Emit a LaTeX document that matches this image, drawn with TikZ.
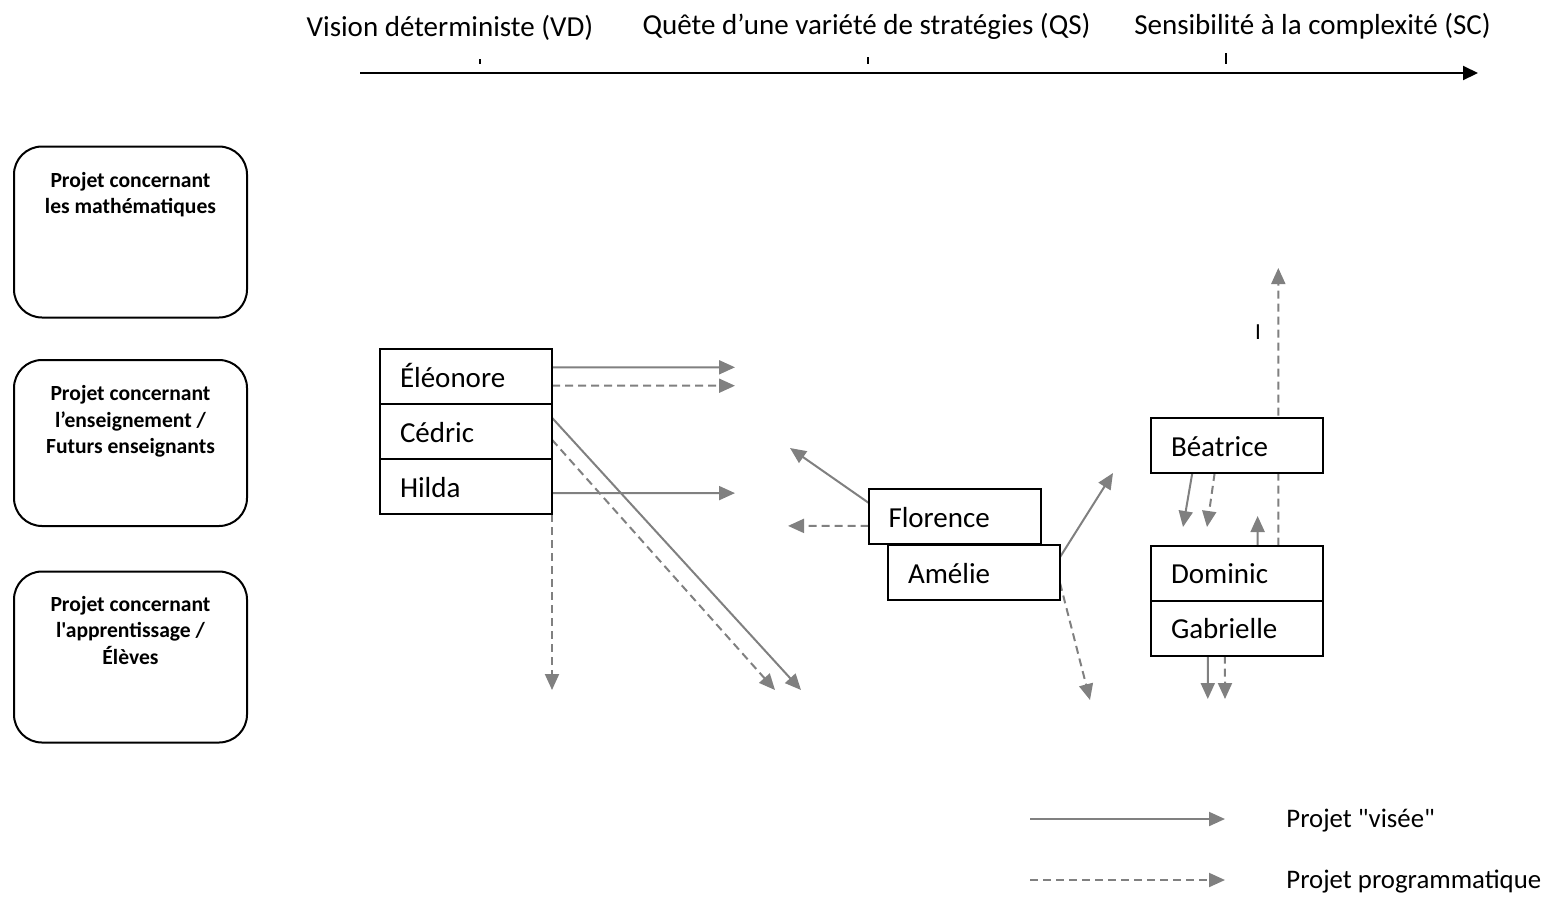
\documentclass[tikz,border=0pt]{standalone}
\usepackage{fontspec}
\setmainfont{Carlito}[Ligatures=TeXOff]
\usetikzlibrary{arrows.meta,calc}
\usetikzlibrary{positioning,backgrounds}

\begin{document}
\begin{tikzpicture}[x=0.5pt,y=-0.5pt,
  axe/.style={line width=1pt,-{Triangle[length=7.5pt,width=7pt]}},
  titre/.style={anchor=base,font=\fontsize{14.5}{17}\selectfont},
  cadre/.style={draw,line width=1pt,rounded corners=14pt,minimum width=116.5pt,minimum height=85.5pt},
  cadretxt/.style={inner sep=0pt,align=center,font=\bfseries\fontsize{10.8}{13.25}\selectfont},
  etu/.style={draw,fill=white,line width=1pt,outer sep=0pt,minimum height=27.5pt,text width=66pt,inner xsep=10pt,
    align=left,text height=13pt,text depth=2.5pt,font=\fontsize{14.5}{17}\selectfont},
  visee/.style={draw=gray,line width=1pt,-{Triangle[length=8pt,width=7pt,fill=gray]}},
  prog/.style={visee,dash pattern=on 4pt off 2.5pt},
  leg/.style={anchor=base west,inner sep=0pt,font=\fontsize{13.4}{16}\selectfont}]

\useasboundingbox (0,0) rectangle (1552,901);

% axe des visions
\coordinate(O) at (360,73);
\coordinate(X) at (1478,73);
\draw[axe] (O) -- (X);
\draw[line width=0.8pt] (480,59) -- (480,64) (868,57) -- (868,64) (1226,53) -- (1226,64);
\node[titre] (VD) at (450,36.5) {Vision déterministe (VD)};
\node[titre] (QS) at (866.5,34.5) {Quête d’une variété de stratégies (QS)};
\node[titre] (SC) at (1312.5,34.5) {Sensibilité à la complexité (SC)};

% types de projets
\node[cadre] (math) at (130.5,232) {};
\node[cadre,minimum height=83pt] (ens) at (130.5,443) {};
\node[cadre] (app) at (130.5,657) {};
\node[cadretxt,below=13pt of math.north] (mathtxt) {Projet concernant\\les mathématiques};
\node[cadretxt,below=13pt of ens.north] (enstxt) {Projet concernant\\l’enseignement /\\Futurs enseignants};
\node[cadretxt,below=12.5pt of app.north] (apptxt) {Projet concernant\\l'apprentissage /\\Élèves};

% etudiants
\node[etu] (eleo) at (466,376.5) {Éléonore};
\node[etu,below=0pt of eleo] (cedr) {Cédric};
\node[etu,below=0pt of cedr] (hild) {Hilda};
\node[etu] (flor) at (954.5,516.5) {Florence};
\node[etu] (amel) at (974,572.5) {Amélie};
\node[etu] (beat) at (1237,445.5) {Béatrice};
\node[etu] (domi) at (1237,573) {Dominic};
\node[etu,below=0pt of domi] (gabr) {Gabrielle};
\node[anchor=base,font=\fontsize{11.5}{14}\selectfont] (trait) at (1258,339) {I};

\begin{scope}[on background layer]
\coordinate(Ep) at ($(eleo.north east)!1./3!(eleo.south east)$);
\coordinate(Eq) at ($(eleo.north east)!2./3!(eleo.south east)$);
\coordinate(Cp) at ($(cedr.north east)!0.25!(cedr.south east)$);
\coordinate(Cq) at ($(cedr.north east)!0.65!(cedr.south east)$);
\coordinate(Hp) at ($(hild.north east)!0.62!(hild.south east)$);
\coordinate(Fp) at ($(flor.north west)!0.25!(flor.south west)$);
\coordinate(Fq) at ($(flor.north west)!0.67!(flor.south west)$);
\coordinate(Ap) at ($(amel.north east)!0.22!(amel.south east)$);
\coordinate(Aq) at ($(amel.north east)!0.69!(amel.south east)$);
\coordinate(Bp) at ($(beat.south west)!0.24!(beat.south east)$);
\coordinate(Bq) at ($(beat.south west)!0.37!(beat.south east)$);
\coordinate(Dp) at ($(domi.north west)!0.62!(domi.north east)$);
\coordinate(Dq) at ($(domi.north west)!0.74!(domi.north east)$);
\coordinate(Gp) at ($(gabr.south west)!0.33!(gabr.south east)$);
\coordinate(Gq) at ($(gabr.south west)!0.43!(gabr.south east)$);

\draw[visee] (Ep) -- (735,367.3);
\draw[prog] (Eq) -- (735,385.7);
\draw[visee] (Cp) -- (801,690);
\draw[prog] (Cq) -- (775,690);
\draw[visee] (Hp) -- (735,493.1);
\draw[prog] (hild.south east) -- (552,690);
\draw[visee] (Fp) -- (790,448);
\draw[prog] (Fq) -- (788,525.9);
\draw[visee] (Ap) -- (1113,473);
\draw[prog] (Aq) -- (1090,700);
\draw[visee] (Bp) -- (1183,527);
\draw[prog] (Bq) -- (1207,527);
\draw[visee] (Dp) -- (1257.6,516);
\draw[prog] (Dq) -- (1278.3,268);
\draw[visee] (Gp) -- (1207.8,699);
\draw[prog] (Gq) -- (1225,699);
\end{scope}

% legende
\coordinate(La) at (1030,819);
\coordinate(Lb) at (1225,819);
\coordinate(Lc) at (1030,880);
\coordinate(Ld) at (1225,880);
\draw[visee] (La) -- (Lb);
\draw[prog] (Lc) -- (Ld);
\node[leg] (legv) at (1286,827) {Projet "visée"};
\node[leg] (legp) at (1286,888) {Projet programmatique};
\end{tikzpicture}
\end{document}
